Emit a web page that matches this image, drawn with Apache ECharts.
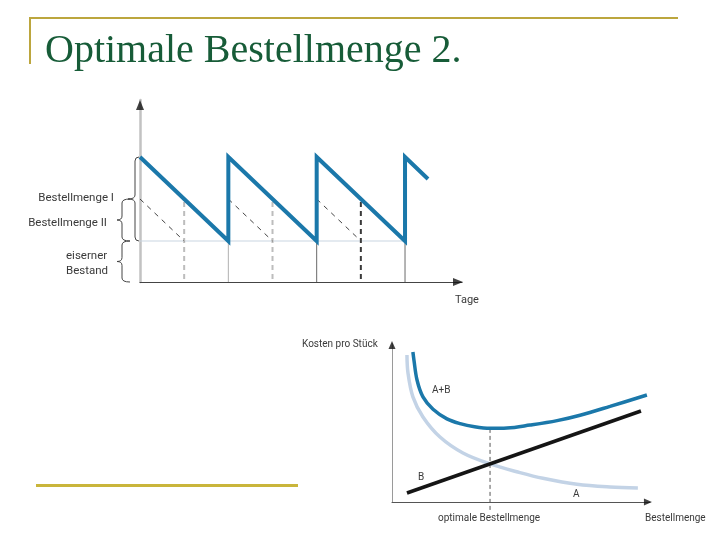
<!DOCTYPE html>
<html><head><meta charset="utf-8">
<script src="https://cdn.jsdelivr.net/npm/echarts/dist/echarts.min.js"></script>
<style>html,body{margin:0;padding:0;background:#fff}#c{width:720px;height:540px}</style>
</head><body><div id="c"></div>
<script>
// ---------- Data: upper chart (Lagerbestand über Tage) ----------
const sawtooth = [[0,125],[10,41],[10,125],[20,41],[20,125],[30,41],[30,125],[32.6,103]];
const safetyStock = [[0,41],[30,41]];
const reorderDays = [10, 20, 30];
const halfDays = [5, 15, 25];
const orderIITop = [83, 83, 83];
const orderIIStart = [0, 10, 20];
const braceRanges = [[125,41],[83,41],[41,0]];
const braceLabels = ['Bestellmenge I','Bestellmenge II','eiserner\nBestand'];

// ---------- Data: lower chart (Kosten pro Stück) ----------
const curveAB = [[8.1,94.9],[8.5,89.9],[9.7,77.2],[12.0,66.5],[15.9,58.7],[21.3,52.6],[26.4,49.6],[32.0,47.6],[38.0,46.6],[44.6,46.8],[53.5,48.7],[64.0,51.5],[72.9,54.9],[84.5,60.5],[98.8,67.7]];
const curveA = [[5.8,93.0],[6.2,81.6],[8.1,66.5],[12.0,53.8],[18.6,41.1],[27.5,31.0],[38.0,24.1],[49.6,18.6],[58.5,15.0],[71.7,11.2],[84.5,9.5],[95.3,8.9]];
const curveB = [[5.8,5.7],[96.5,57.6]];
const optimum = 38.0;
const optimumCost = 46.6;

// ---------- Styles ----------
const BLUE = '#1b78aa', LIGHT = '#c3d3e6', GOLD1 = '#bca63e', GOLD2 = '#c9b53b';
const TXT = '#3a3a3a';
const FONT = 'Roboto, "DejaVu Sans", sans-serif';
const braceOffsets = [{e:1,s:5,t:12},{e:10,s:18,t:23},{e:10,s:18,t:23}];

function seg(pts, style, gi, z) {
  return {type:'line', xAxisIndex:gi, yAxisIndex:gi, data:pts, symbol:'none', silent:true,
          clip:false, lineStyle:style, z: z || 2, animation:false};
}

const series = [];
// upper chart
series.push(seg(safetyStock, {color:'#c9d5e1', width:1}, 0, 1));
reorderDays.forEach((d,i) => series.push(seg([[d,0],[d,41]], {color: i===0 ? '#b0b0b0' : '#6a6a6a', width:1}, 0, 1)));
halfDays.forEach((d,i) => series.push(seg([[d,3],[d,orderIITop[i]]], {color: i===2 ? '#3a3a3a' : '#bdbdbd', width:2, type:[5,4]}, 0, 1)));
orderIIStart.forEach((d,i) => series.push(seg([[d,orderIITop[i]],[halfDays[i],41]], {color:'#444', width:1, type:[5,5]}, 0, 1)));
series.push(seg(sawtooth, {color:BLUE, width:4, join:'miter'}, 0, 5));
series.push({
  type:'custom', xAxisIndex:0, yAxisIndex:0, clip:false, silent:true, data:braceRanges,
  renderItem: (params, api) => {
    const i = params.dataIndex;
    const p1 = api.coord([0, api.value(0)]);
    const p2 = api.coord([0, api.value(1)]);
    const o = braceOffsets[i];
    const xa = p1[0], xe = xa - o.e, xs = xa - o.s, xt = xa - o.t;
    const y1 = p1[1], y2 = p2[1], ym = (y1 + y2) / 2, r = 4;
    const d = `M${xe} ${y1} Q${xs} ${y1} ${xs} ${y1+r} L${xs} ${ym-r} Q${xs} ${ym} ${xt} ${ym} ` +
              `Q${xs} ${ym} ${xs} ${ym+r} L${xs} ${y2-r} Q${xs} ${y2} ${xe} ${y2}`;
    return {type:'path', shape:{pathData:d}, style:{stroke:'#444', fill:'none', lineWidth:1}};
  }
});
// arrows
series.push({type:'scatter', xAxisIndex:0, yAxisIndex:0, data:[[0,177]], symbol:'triangle', symbolSize:[8,10], itemStyle:{color:'#111'}, silent:true, clip:false, z:6});
series.push({type:'scatter', xAxisIndex:0, yAxisIndex:0, data:[[36.0,0]], symbol:'triangle', symbolSize:[8,10], symbolRotate:-90, itemStyle:{color:'#111'}, silent:true, clip:false, z:6});

// lower chart
series.push(seg([[optimum,-5],[optimum,optimumCost]], {color:'#555', width:1, type:[4,3]}, 1, 1));
series.push({type:'line', xAxisIndex:1, yAxisIndex:1, data:curveA, symbol:'none', smooth:0.35, silent:true, lineStyle:{color:LIGHT, width:3.5}, z:2});
series.push(seg(curveB, {color:'#151515', width:3.5}, 1, 3));
series.push({type:'line', xAxisIndex:1, yAxisIndex:1, data:curveAB, symbol:'none', smooth:0.35, silent:true, lineStyle:{color:BLUE, width:3.5}, z:4});
series.push({type:'scatter', xAxisIndex:1, yAxisIndex:1, data:[[0,99.4]], symbol:'triangle', symbolSize:[7,8], itemStyle:{color:'#111'}, silent:true, clip:false, z:6});
series.push({type:'scatter', xAxisIndex:1, yAxisIndex:1, data:[[99.2,0]], symbol:'triangle', symbolSize:[7,8], symbolRotate:-90, itemStyle:{color:'#111'}, silent:true, clip:false, z:6});

function txt(t, x, y, size, align, extra) {
  return Object.assign({type:'text', x:x, y:y, silent:true, z:10,
    style:{text:t, fill:TXT, fontSize:size, fontFamily:FONT, align:align||'left', verticalAlign:'middle'}}, extra||{});
}

const hideAxis = {axisTick:{show:false}, axisLabel:{show:false}, splitLine:{show:false}};
const option = {
  animation:false,
  backgroundColor:'#fff',
  grid:[
    {left:140, top:100, width:322, height:182},
    {left:392, top:344, width:258, height:158}
  ],
  xAxis:[
    Object.assign({type:'value', gridIndex:0, min:0, max:36.45, axisLine:{lineStyle:{color:'#444', width:1.2}}}, hideAxis),
    Object.assign({type:'value', gridIndex:1, min:0, max:100, axisLine:{lineStyle:{color:'#555', width:1}}}, hideAxis)
  ],
  yAxis:[
    Object.assign({type:'value', gridIndex:0, min:0, max:182, axisLine:{lineStyle:{color:'#c2c2c2', width:2.5}}}, hideAxis),
    Object.assign({type:'value', gridIndex:1, min:0, max:100, axisLine:{lineStyle:{color:'#9a9a9a', width:1}}}, hideAxis)
  ],
  series: series,
  graphic:[
    {type:'line', shape:{x1:30, y1:18, x2:678, y2:18}, style:{stroke:GOLD1, lineWidth:2}, silent:true},
    {type:'line', shape:{x1:30, y1:17, x2:30, y2:64}, style:{stroke:GOLD1, lineWidth:2}, silent:true},
    {type:'line', shape:{x1:36, y1:485.5, x2:298, y2:485.5}, style:{stroke:GOLD2, lineWidth:3}, silent:true},
    {type:'text', x:45, y:51, silent:true, style:{text:'Optimale Bestellmenge 2.', fill:'#175c38', fontSize:40, fontFamily:'"Liberation Serif", "DejaVu Serif", serif', verticalAlign:'middle'}},
    txt(braceLabels[0], 114, 198, 11.5, 'right'),
    txt(braceLabels[1], 107, 223, 11.5, 'right'),
    txt('eiserner', 66, 256, 11.5, 'left'),
    txt('Bestand', 66, 271, 11.5, 'left'),
    txt('Tage', 455, 300, 11, 'left'),
    txt('Kosten pro Stück', 302, 344, 10, 'left'),
    txt('optimale Bestellmenge', 438, 518, 10, 'left'),
    txt('Bestellmenge', 645, 518, 10, 'left'),
    txt('A+B', 432, 390, 10, 'left'),
    txt('B', 418, 477, 10, 'left'),
    txt('A', 573, 494, 10, 'left')
  ]
};
const chart = echarts.init(document.getElementById('c'), null, {renderer:'canvas'});
chart.setOption(option);
</script>
</body></html>
